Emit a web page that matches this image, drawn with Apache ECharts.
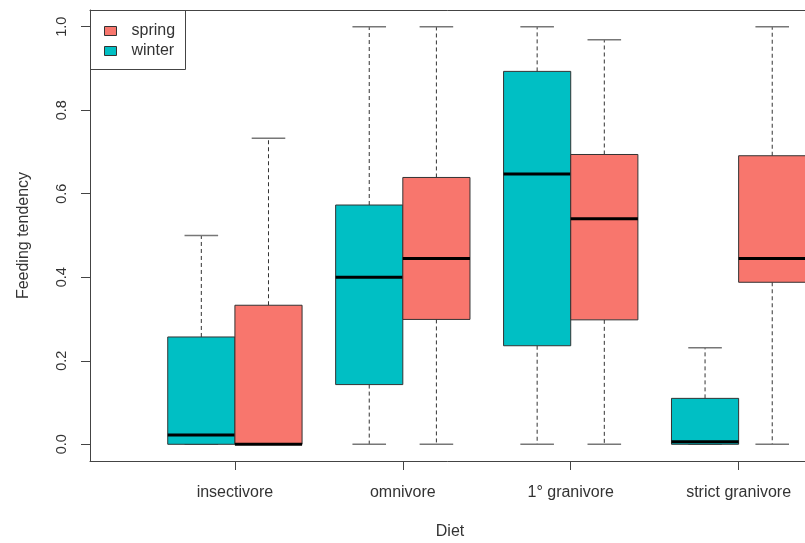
<!DOCTYPE html>
<html>
<head>
<meta charset="utf-8">
<script src="https://cdn.jsdelivr.net/npm/echarts@6/dist/echarts.min.js"></script>
<style>
  html, body { margin: 0; padding: 0; background: #fff; }
  #chart { width: 805px; height: 543px; }
</style>
</head>
<body>
<div id="chart"></div>
<script>
// Diet groups along the x axis
const categories = ['insectivore', 'omnivore', '1° granivore', 'strict granivore'];

// Five-number summaries per group: [lower whisker, Q1, median, Q3, upper whisker]
const winterStats = [
  [0, 0, 0.022, 0.257, 0.500],
  [0, 0.143, 0.400, 0.573, 1.000],
  [0, 0.236, 0.647, 0.893, 1.000],
  [0, 0, 0.006, 0.110, 0.231]
];
const springStats = [
  [0, 0, 0, 0.333, 0.733],
  [0, 0.299, 0.445, 0.639, 1.000],
  [0, 0.298, 0.540, 0.694, 0.969],
  [0, 0.388, 0.445, 0.691, 1.000]
];

// Outliers: [group index, value]
const winterOutliers = [[0, 0.867]];
const springOutliers = [];

// Y axis tick values
const yTicks = [0, 0.2, 0.4, 0.6, 0.8, 1.0];

const seasonColors = { spring: '#F8766D', winter: '#00BFC4' };
const FONT = 'Liberation Sans, Arial, sans-serif';
const BOX_HALF = 0.2;   // half width of each box in axis units
const SHIFT = 0.2;      // offset of each season from the group centre

function toRows(stats) {
  return stats.map((s, i) => [i + 1].concat(s));
}

function makeRenderer(offset, fill) {
  return function (params, api) {
    const x = api.value(0) + offset;
    const lo = api.coord([x, api.value(1)]);
    const q1 = api.coord([x, api.value(2)]);
    const md = api.coord([x, api.value(3)]);
    const q3 = api.coord([x, api.value(4)]);
    const hi = api.coord([x, api.value(5)]);
    const hw = api.size([BOX_HALF, 0])[0];
    const cw = hw / 2;
    const cx = lo[0];
    const dashed = { stroke: '#333', lineWidth: 1, lineDash: [4, 3] };
    const cap = { stroke: '#777', lineWidth: 1.5 };
    return {
      type: 'group',
      children: [
        { type: 'line', shape: { x1: cx, y1: q3[1], x2: cx, y2: hi[1] }, style: dashed },
        { type: 'line', shape: { x1: cx, y1: q1[1], x2: cx, y2: lo[1] }, style: dashed },
        { type: 'line', shape: { x1: cx - cw, y1: hi[1], x2: cx + cw, y2: hi[1] }, style: cap },
        { type: 'line', shape: { x1: cx - cw, y1: lo[1], x2: cx + cw, y2: lo[1] }, style: cap },
        {
          type: 'rect',
          shape: { x: cx - hw, y: q3[1], width: hw * 2, height: q1[1] - q3[1] },
          style: { fill: fill, stroke: '#333', lineWidth: 1 }
        },
        { type: 'line', shape: { x1: cx - hw, y1: md[1], x2: cx + hw, y2: md[1] },
          style: { stroke: '#000', lineWidth: 3 } }
      ]
    };
  };
}

const chart = echarts.init(document.getElementById('chart'), null, { renderer: 'canvas' });

chart.setOption({
  animation: false,
  backgroundColor: '#fff',
  textStyle: { fontFamily: FONT },
  grid: {
    left: 90, top: 10, width: 720, height: 451,
    outerBoundsMode: 'none',
    containLabel: false,
    show: false
  },
  xAxis: [
    {
      type: 'value',
      position: 'bottom',
      min: 0.137,
      max: 4.425,
      name: 'Diet',
      nameLocation: 'middle',
      nameGap: 63,
      nameTextStyle: { fontFamily: FONT, fontSize: 16, color: '#333' },
      splitLine: { show: false },
      axisLine: { show: true, onZero: false, lineStyle: { color: '#444' } },
      axisTick: {
        show: true, length: 9, lineStyle: { color: '#444' },
        customValues: categories.map((c, i) => i + 1)
      },
      axisLabel: {
        show: true, margin: 24, fontFamily: FONT, fontSize: 16, color: '#333',
        customValues: categories.map((c, i) => i + 1),
        formatter: v => categories[Math.round(v) - 1] || ''
      }
    },
    {
      // top edge of the plot frame
      type: 'value',
      position: 'top',
      min: 0.137,
      max: 4.425,
      splitLine: { show: false },
      axisLine: { show: true, onZero: false, lineStyle: { color: '#444' } },
      axisTick: { show: false },
      axisLabel: { show: false }
    }
  ],
  yAxis: {
    type: 'value',
    min: -0.04,
    max: 1.04,
    name: 'Feeding tendency',
    nameLocation: 'middle',
    nameGap: 58,
    nameTextStyle: { fontFamily: FONT, fontSize: 16, color: '#333' },
    splitLine: { show: false },
    axisLine: { show: true, onZero: false, lineStyle: { color: '#444' } },
    axisTick: { show: true, length: 9, lineStyle: { color: '#444' }, customValues: yTicks },
    axisLabel: {
      show: true, rotate: 90, margin: 21, fontFamily: FONT, fontSize: 14.5, color: '#333',
      customValues: yTicks,
      formatter: v => Number(v).toFixed(1)
    }
  },
  legend: {
    data: ['spring', 'winter'],
    orient: 'vertical',
    left: 104,
    top: 23,
    padding: 0,
    itemWidth: 12,
    itemHeight: 9,
    itemGap: 4,
    icon: 'rect',
    itemStyle: { borderColor: '#333', borderWidth: 1 },
    textStyle: { fontFamily: FONT, fontSize: 16, color: '#333', lineHeight: 16, padding: [0, 0, 0, 10] },
    selectedMode: false
  },
  graphic: [
    {
      type: 'rect',
      left: 90, top: 10,
      shape: { width: 95, height: 59 },
      style: { fill: '#fff', stroke: '#444', lineWidth: 1 },
      z: 0,
      zlevel: 0
    }
  ],
  series: [
    {
      name: 'winter',
      type: 'custom',
      itemStyle: { color: seasonColors.winter },
      renderItem: makeRenderer(-SHIFT, seasonColors.winter),
      encode: { x: 0, y: [1, 2, 3, 4, 5] },
      data: toRows(winterStats),
      clip: true,
      z: 2
    },
    {
      name: 'spring',
      type: 'custom',
      itemStyle: { color: seasonColors.spring },
      renderItem: makeRenderer(SHIFT, seasonColors.spring),
      encode: { x: 0, y: [1, 2, 3, 4, 5] },
      data: toRows(springStats),
      clip: true,
      z: 2
    },
    {
      name: 'winter outliers',
      type: 'scatter',
      symbol: 'emptyCircle',
      symbolSize: 5,
      itemStyle: { color: '#fff', borderColor: '#333', borderWidth: 1 },
      data: winterOutliers.map(o => [o[0] + 1 - SHIFT, o[1]]),
      z: 3
    },
    {
      name: 'spring outliers',
      type: 'scatter',
      symbol: 'emptyCircle',
      symbolSize: 5,
      itemStyle: { color: '#fff', borderColor: '#333', borderWidth: 1 },
      data: springOutliers.map(o => [o[0] + 1 + SHIFT, o[1]]),
      z: 3
    }
  ]
});
</script>
</body>
</html>
